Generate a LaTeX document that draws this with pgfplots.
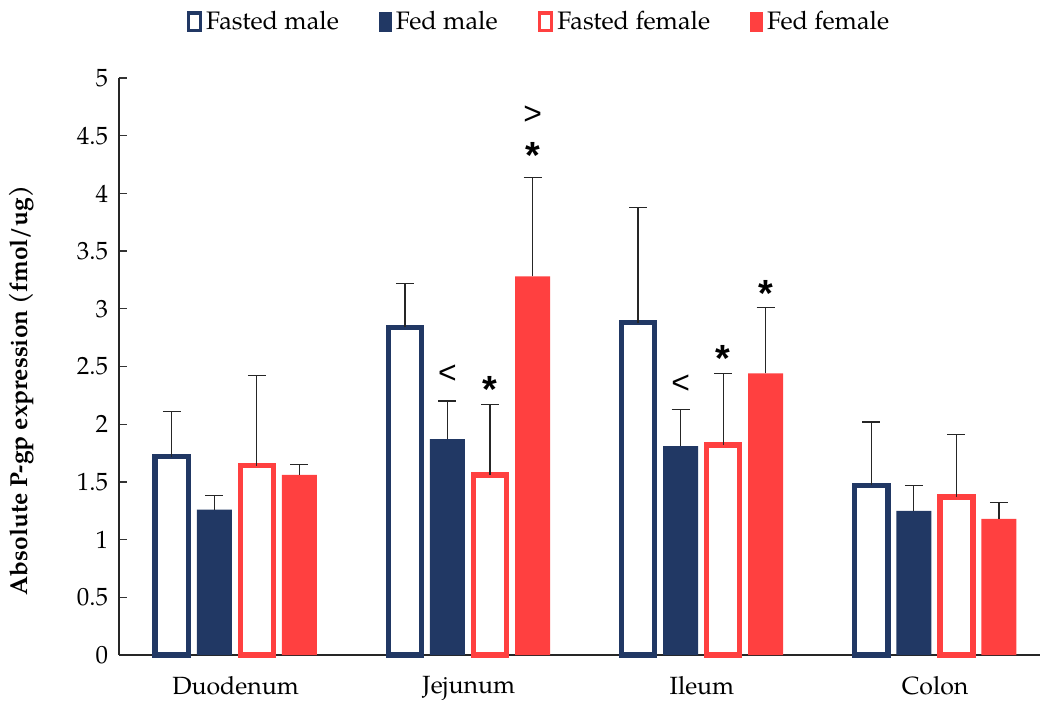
\documentclass[border=0pt]{standalone}
\usepackage{fontspec}
\setmainfont{TeX Gyre Pagella}
\newfontfamily\annotfont{Liberation Sans}
\usepackage{pgfplots}
\pgfplotsset{compat=1.18}
\definecolor{navy}{RGB}{33,56,100}
\definecolor{myred}{RGB}{255,64,64}
\begin{document}
\begin{tikzpicture}
\begin{axis}[
  name=ax,
  scale only axis,
  width=460.5bp, height=288.5bp,
  ybar, bar width=0.15,
  xmin=-0.5, xmax=3.45,
  ymin=0, ymax=5,
  ytick={0,0.5,...,5},
  yticklabels={0,0.5,1,1.5,2,2.5,3,3.5,4,4.5,5},
  xtick={0,1,2,3},
  xticklabels={Duodenum,Jejunum,Ileum,Colon},
  axis x line=bottom, axis y line=left,
  axis line style={-, line width=0.75bp, black!85},
  x tick style={draw=none},
  y tick style={line width=0.6bp, black!80},
  major tick length=4bp,
  tick align=inside,
  /pgf/number format/assume math mode=true,
  tick label style={font=\fontsize{12.5}{14}\selectfont},
  yticklabel style={xshift=-2bp},
  xticklabel style={yshift=-7bp},
  ylabel={\bfseries Absolute P-gp expression (fmol/ug)},
  ylabel style={font=\fontsize{12.3}{14}\selectfont, at={(rel axis cs:0,0.458)}, anchor=center, yshift=48.5bp},
  legend columns=4,
  legend style={draw=none, fill=none, at={(0.457,1)}, anchor=center, yshift=28bp,
    font=\fontsize{12.7}{14}\selectfont, /tikz/every even column/.append style={column sep=18bp}},
  legend cell align=left,
  error bars/y dir=plus, error bars/y explicit,
  error bars/error bar style={black!85, line width=0.65bp},
  error bars/error mark options={black!85, line width=0.65bp, mark size=4.5bp, rotate=90},
  clip=false,
]
\addplot[draw=navy, fill=white, line width=2.75bp, bar width=0.142, bar shift=-0.2736,
  legend image code/.code={\draw[draw=navy, fill=white, line width=1.8bp] (0bp,-4.2bp) rectangle (6bp,4.5bp);}]
  coordinates {(0,1.72) +- (0,0.39) (1,2.84) +- (0,0.38) (2,2.88) +- (0,1.00) (3,1.47) +- (0,0.55)};
\addlegendentry{Fasted male}
\addplot[draw=none, fill=navy, bar shift=-0.0912,
  legend image code/.code={\fill[navy] (0.3bp,-4.8bp) rectangle (6.8bp,5bp);}]
  coordinates {(0,1.26) +- (0,0.12) (1,1.87) +- (0,0.33) (2,1.81) +- (0,0.32) (3,1.25) +- (0,0.22)};
\addlegendentry{Fed male}
\addplot[draw=myred, fill=white, line width=2.75bp, bar width=0.142, bar shift=0.0912,
  legend image code/.code={\draw[draw=myred, fill=white, line width=1.8bp] (0bp,-4.2bp) rectangle (6bp,4.5bp);}]
  coordinates {(0,1.64) +- (0,0.78) (1,1.56) +- (0,0.61) (2,1.82) +- (0,0.62) (3,1.37) +- (0,0.54)};
\addlegendentry{Fasted female}
\addplot[draw=none, fill=myred, bar shift=0.2736,
  legend image code/.code={\fill[myred] (0.3bp,-4.8bp) rectangle (6.8bp,5bp);}]
  coordinates {(0,1.56) +- (0,0.09) (1,3.28) +- (0,0.86) (2,2.44) +- (0,0.57) (3,1.18) +- (0,0.14)};
\addlegendentry{Fed female}
% significance annotations
\node[font=\annotfont\fontsize{16}{16}\selectfont] at (axis cs:0.909,2.43) {<};
\node[font=\annotfont\bfseries\fontsize{19}{19}\selectfont] at (axis cs:1.091,2.30) {*};
\node[font=\annotfont\fontsize{16}{16}\selectfont] at (axis cs:1.274,4.68) {>};
\node[font=\annotfont\bfseries\fontsize{19}{19}\selectfont] at (axis cs:1.274,4.33) {*};
\node[font=\annotfont\fontsize{16}{16}\selectfont] at (axis cs:1.909,2.35) {<};
\node[font=\annotfont\bfseries\fontsize{19}{19}\selectfont] at (axis cs:2.091,2.57) {*};
\node[font=\annotfont\bfseries\fontsize{19}{19}\selectfont] at (axis cs:2.274,3.13) {*};
\end{axis}
\pgfresetboundingbox
\path[use as bounding box] ([xshift=-59.5bp,yshift=-24.5bp]ax.south west) rectangle ([xshift=1bp,yshift=39bp]ax.north east);
\end{tikzpicture}
\end{document}
